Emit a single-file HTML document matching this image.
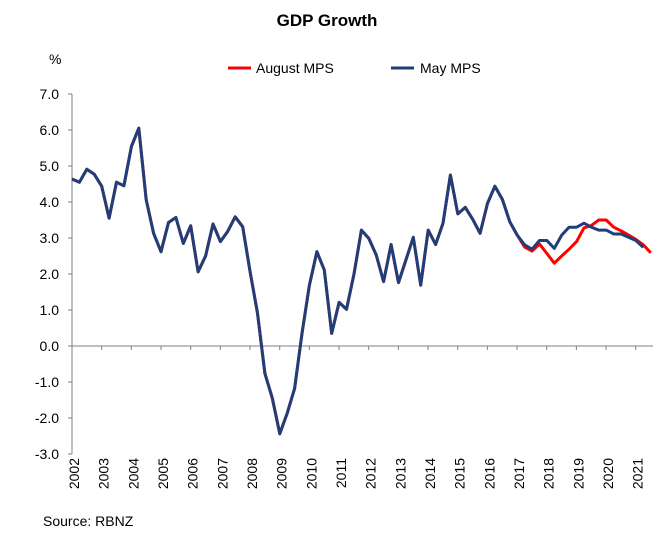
<!DOCTYPE html>
<html><head><meta charset="utf-8"><style>
body{margin:0;background:#fff;width:669px;height:533px;overflow:hidden}
svg text{font-family:"Liberation Sans",Arial,sans-serif;fill:#000}
</style></head><body>
<svg id="chart" width="669" height="533">
<text x="327" y="26" text-anchor="middle" font-size="17" font-weight="bold">GDP Growth</text>
<text x="49" y="64" font-size="14">%</text>
<g>
<line x1="228" y1="68" x2="251" y2="68" stroke="#ff0000" stroke-width="3"/>
<text x="256" y="73" font-size="14">August MPS</text>
<line x1="391" y1="68" x2="414" y2="68" stroke="#1f3f7a" stroke-width="3"/>
<text x="420" y="73" font-size="14">May MPS</text>
</g>
<g id="axes"></g>
<g id="series"></g>
<text x="43" y="526" font-size="14">Source: RBNZ</text>
</svg>
<script>
const years = ["2002","2003","2004","2005","2006","2007","2008","2009","2010","2011","2012","2013","2014","2015","2016","2017","2018","2019","2020","2021"];
const yTicks = [7,6,5,4,3,2,1,0,-1,-2,-3];
const mayMPS = [4.64,4.55,4.91,4.77,4.44,3.55,4.55,4.45,5.54,6.05,4.06,3.13,2.62,3.43,3.57,2.85,3.34,2.06,2.5,3.39,2.9,3.19,3.59,3.31,2.06,0.91,-0.76,-1.45,-2.44,-1.87,-1.18,0.35,1.69,2.62,2.11,0.35,1.21,1.02,2.0,3.22,2.99,2.53,1.79,2.82,1.76,2.39,3.02,1.69,3.22,2.82,3.41,4.75,3.67,3.85,3.52,3.13,3.96,4.44,4.07,3.45,3.08,2.81,2.69,2.93,2.93,2.71,3.08,3.30,3.30,3.41,3.30,3.22,3.22,3.11,3.11,3.02,2.93,2.74];
const augustMPS = [4.64,4.55,4.91,4.77,4.44,3.55,4.55,4.45,5.54,6.05,4.06,3.13,2.62,3.43,3.57,2.85,3.34,2.06,2.5,3.39,2.9,3.19,3.59,3.31,2.06,0.91,-0.76,-1.45,-2.44,-1.87,-1.18,0.35,1.69,2.62,2.11,0.35,1.21,1.02,2.0,3.22,2.99,2.53,1.79,2.82,1.76,2.39,3.02,1.69,3.22,2.82,3.41,4.75,3.67,3.85,3.52,3.13,3.96,4.44,4.07,3.45,3.08,2.75,2.64,2.83,2.57,2.30,2.50,2.69,2.90,3.28,3.35,3.5,3.5,3.30,3.2,3.08,2.96,2.81,2.59];

const NS="http://www.w3.org/2000/svg";
const X0=72, QW=7.42, YW=29.67, Y0=346, U=36;
const xq=i=>X0+i*QW;
const yv=v=>Y0-v*U;
function mk(tag,attrs,parent){const e=document.createElementNS(NS,tag);for(const k in attrs)e.setAttribute(k,attrs[k]);parent.appendChild(e);return e;}
const ax=document.getElementById('axes'), se=document.getElementById('series');
let e=mk('line',{x1:X0,y1:yv(7),x2:X0,y2:yv(-3),stroke:'#808080','stroke-width':1},ax);


yTicks.forEach(v=>{
  let t=mk('line',{x1:X0-4,y1:yv(v),x2:X0,y2:yv(v),stroke:'#808080'},ax);
  
  
  let l=mk('text',{x:59,y:yv(v)+5,'text-anchor':'end','font-size':14},ax);
  l.textContent=v.toFixed(1);
  
  
});
e=mk('line',{x1:X0,y1:Y0,x2:653,y2:Y0,stroke:'#808080','stroke-width':1},ax);


years.forEach((y,i)=>{
  const x=X0+i*YW;
  if(i>0){let t=mk('line',{x1:x,y1:Y0,x2:x,y2:Y0+4,stroke:'#808080'},ax);
  
  }
  let l=mk('text',{x:0,y:0,'font-size':14,'text-anchor':'end',transform:`translate(${x+7},458) rotate(-90)`},ax);
  l.textContent=y;
  
  
});
const pts=a=>a.map((v,i)=>xq(i).toFixed(1)+','+yv(v).toFixed(1)).join(' ');
e=mk('polyline',{points:pts(augustMPS),fill:'none',stroke:'#ff0000','stroke-width':3,'stroke-linejoin':'round'},se);


e=mk('polyline',{points:pts(mayMPS),fill:'none',stroke:'#1f3f7a','stroke-width':3,'stroke-linejoin':'round'},se);


</script>
</body></html>
